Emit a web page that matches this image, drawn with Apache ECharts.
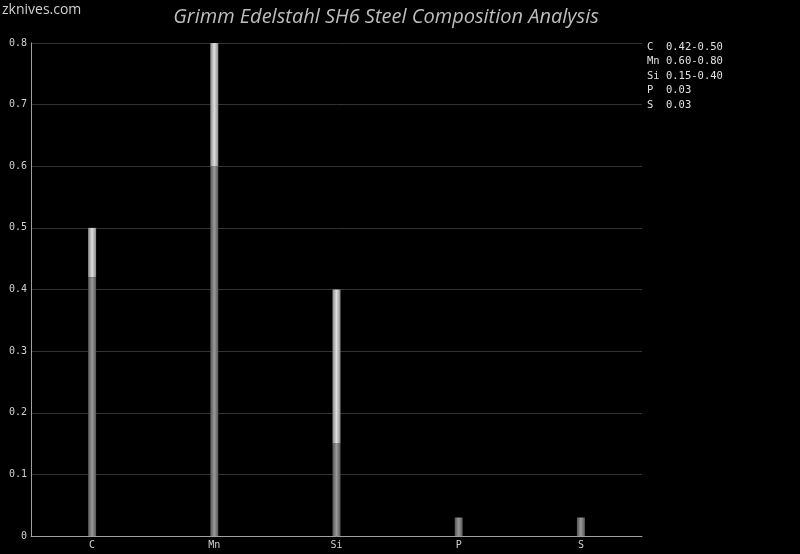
<!DOCTYPE html>
<html>
<head>
<meta charset="utf-8">
<script src="https://cdn.jsdelivr.net/npm/echarts@6/dist/echarts.min.js"></script>
<style>
  html, body { margin: 0; padding: 0; background: #000; }
  #chart { width: 800px; height: 554px; }
</style>
</head>
<body>
<div id="chart"></div>
<script>
// 元素与含量范围（%）
const elements = ['C', 'Mn', 'Si', 'P', 'S']
const minValues = [0.42, 0.60, 0.15, 0.03, 0.03]
const maxValues = [0.50, 0.80, 0.40, 0.03, 0.03]
const rangeLabels = ['0.42-0.50', '0.60-0.80', '0.15-0.40', '0.03', '0.03']
const yTicks = [0, 0.1, 0.2, 0.3, 0.4, 0.5, 0.6, 0.7, 0.8]

const mono = 'DejaVu Sans Mono'

const chart = echarts.init(document.getElementById('chart'))

// 上半段 = 最大值 - 最小值
const spanValues = maxValues.map((v, i) => +(v - minValues[i]).toFixed(2))

// 右上角图例文字
const legendLines = elements.map((el, i) => (el + '  ').slice(0, 3) + rangeLabels[i])

const hGrad = (edge, mid) => new echarts.graphic.LinearGradient(0, 0, 1, 0, [
  { offset: 0, color: edge },
  { offset: 0.5, color: mid },
  { offset: 1, color: edge }
])

const options = {
  backgroundColor: '#000',
  animation: false,
  title: {
    text: 'Grimm Edelstahl SH6 Steel Composition Analysis',
    left: 381,
    top: 2,
    textAlign: 'center',
    textStyle: {
      color: '#bdbdbd',
      fontFamily: 'Open Sans',
      fontStyle: 'italic',
      fontWeight: 'normal',
      fontSize: 20
    }
  },
  graphic: [
    {
      type: 'text',
      left: 2,
      top: 3,
      style: {
        text: 'zknives.com',
        fill: '#d0d0d0',
        font: '14px "Liberation Sans Narrow", "Open Sans", sans-serif'
      }
    },
    {
      type: 'text',
      left: 647,
      top: 40,
      style: {
        text: legendLines.join('\n'),
        fill: '#e0e0e0',
        font: '10.5px "' + mono + '"',
        lineHeight: 14.5
      }
    }
  ],
  grid: {
    left: 31,
    right: 158,
    top: 43,
    bottom: 18
  },
  xAxis: {
    type: 'category',
    data: elements,
    axisTick: { show: false },
    axisLine: { lineStyle: { color: '#a0a0a0', width: 1 } },
    axisLabel: {
      color: '#d0d0d0',
      fontFamily: mono,
      fontSize: 10,
      margin: 4
    },
    splitLine: { show: false }
  },
  yAxis: {
    type: 'value',
    min: 0,
    max: yTicks[yTicks.length - 1],
    interval: 0.1,
    axisLine: { show: true, lineStyle: { color: '#a0a0a0', width: 1 } },
    axisTick: { show: false },
    axisLabel: {
      color: '#d0d0d0',
      fontFamily: mono,
      fontSize: 10,
      margin: 4
    },
    splitLine: { lineStyle: { color: '#333', width: 1 } }
  },
  series: [
    {
      name: 'min',
      type: 'bar',
      stack: 'range',
      barWidth: 8,
      itemStyle: { color: hGrad('#555', '#9a9a9a') },
      data: minValues
    },
    {
      name: 'range',
      type: 'bar',
      stack: 'range',
      barWidth: 8,
      itemStyle: { color: hGrad('#8a8a8a', '#dedede') },
      data: spanValues
    }
  ]
}

chart.setOption(options)
</script>
</body>
</html>
